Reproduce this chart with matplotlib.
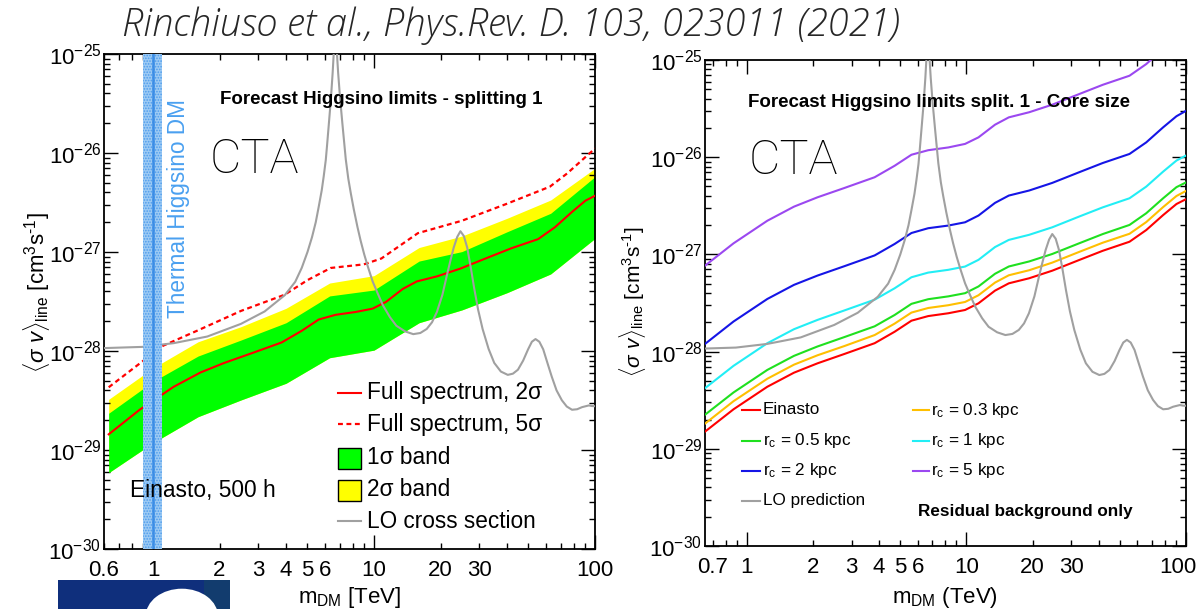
import numpy as np
import matplotlib
matplotlib.use("Agg")
import matplotlib.pyplot as plt
from matplotlib.ticker import FixedLocator, FuncFormatter, NullFormatter
from matplotlib.patches import Rectangle, Ellipse
from matplotlib.lines import Line2D

plt.rcParams["font.family"] = ["Liberation Sans", "DejaVu Sans"]
plt.rcParams["mathtext.fontset"] = "custom"
plt.rcParams["mathtext.rm"] = "Liberation Sans"
plt.rcParams["mathtext.it"] = "Liberation Sans:italic"
plt.rcParams["mathtext.bf"] = "Liberation Sans:bold"
plt.rcParams["mathtext.sf"] = "Liberation Sans"
plt.rcParams["hatch.linewidth"] = 0.8

# ---------------- data ----------------
# expected-limit bands (full spectrum, Einasto, 500 h), sampled mass grid in TeV
band_mass = [0.63, 1.0, 1.6, 2.5, 4.0, 6.3, 10, 16, 25, 40, 63, 100]
band_1s_lo = [5.9e-30, 1.18e-29, 2.17e-29, 3.2e-29, 4.72e-29, 8.55e-29,
              1.02e-28, 1.93e-28, 2.6e-28, 3.88e-28, 6.0e-28, 1.37e-27]
band_1s_hi = [2.35e-29, 4.92e-29, 8.9e-29, 1.29e-28, 1.93e-28, 3.6e-28,
              4.13e-28, 8.1e-28, 1.01e-27, 1.6e-27, 2.46e-27, 5.76e-27]
band_2s_hi = [3.25e-29, 6.73e-29, 1.24e-28, 1.76e-28, 2.7e-28, 4.86e-28,
              5.77e-28, 1.11e-27, 1.45e-27, 2.19e-27, 3.35e-27, 7.0e-27]

# 5 sigma discovery line
m_5sigma = [0.63, 0.892, 1.11, 1.58, 2.5, 3.94, 5.0, 6.37, 9.0, 10.8,
            15.8, 25, 39.6, 62.5, 74.7, 100]
sv_5sigma = [4.3e-29, 7.8e-29, 1.13e-28, 1.6e-28, 2.54e-28, 3.7e-28, 5.2e-28,
             6.9e-28, 7.5e-28, 8.6e-28, 1.55e-27, 2.07e-27, 3.05e-27, 4.57e-27,
             6.2e-27, 1.11e-26]

# smooth limit curves (Einasto and cored profiles)
m_curve = [0.63, 0.87, 1.24, 1.64, 2.1, 2.78, 3.82, 4.71, 5.62, 6.7, 8.27, 9.86,
           11.35, 13.5, 15.6, 19.3, 24.6, 32.6, 41.8, 55.3, 65.9, 78.7, 90.5, 100]
sv_einasto = [1.44e-29, 2.55e-29, 4.35e-29, 6.07e-29, 7.58e-29, 9.45e-29,
              1.22e-28, 1.6e-28, 2.08e-28, 2.32e-28, 2.48e-28, 2.68e-28,
              3.14e-28, 4.24e-28, 5.04e-28, 5.68e-28, 6.8e-28, 8.75e-28,
              1.09e-27, 1.35e-27, 1.78e-27, 2.54e-27, 3.3e-27, 3.7e-27]
sv_rc03 = [1.74e-29, 3.09e-29, 5.26e-29, 7.34e-29, 9.17e-29, 1.14e-28,
           1.48e-28, 1.94e-28, 2.52e-28, 2.81e-28, 3.0e-28, 3.24e-28,
           3.8e-28, 5.13e-28, 6.1e-28, 6.87e-28, 8.23e-28, 1.06e-27,
           1.32e-27, 1.63e-27, 2.15e-27, 3.07e-27, 3.99e-27, 4.5e-27]
sv_rc05 = [2.15e-29, 3.8e-29, 6.48e-29, 9.04e-29, 1.13e-28, 1.41e-28,
           1.82e-28, 2.38e-28, 3.1e-28, 3.46e-28, 3.7e-28, 3.99e-28,
           4.68e-28, 6.32e-28, 7.51e-28, 8.46e-28, 1.01e-27, 1.3e-27,
           1.62e-27, 2.01e-27, 2.65e-27, 3.78e-27, 4.92e-27, 5.5e-27]
sv_rc1 = [4.03e-29, 7.14e-29, 1.22e-28, 1.7e-28, 2.12e-28, 2.65e-28,
          3.42e-28, 4.48e-28, 5.82e-28, 6.5e-28, 6.94e-28, 7.5e-28,
          8.79e-28, 1.19e-27, 1.41e-27, 1.59e-27, 1.9e-27, 2.45e-27,
          3.05e-27, 3.78e-27, 4.98e-27, 7.11e-27, 9.24e-27, 1.04e-26]
sv_rc2 = [1.15e-28, 2.04e-28, 3.48e-28, 4.86e-28, 6.06e-28, 7.56e-28,
          9.76e-28, 1.28e-27, 1.66e-27, 1.86e-27, 1.98e-27, 2.14e-27,
          2.51e-27, 3.39e-27, 4.03e-27, 4.54e-27, 5.44e-27, 7.0e-27,
          8.72e-27, 1.08e-26, 1.42e-26, 2.03e-26, 2.64e-26, 3.0e-26]
sv_rc5 = [7.34e-28, 1.3e-27, 2.22e-27, 3.1e-27, 3.87e-27, 4.82e-27,
          6.22e-27, 8.16e-27, 1.06e-26, 1.18e-26, 1.26e-26, 1.37e-26,
          1.6e-26, 2.16e-26, 2.57e-26, 2.9e-26, 3.47e-26, 4.46e-26,
          5.56e-26, 6.89e-26, 9.08e-26, 1.3e-25, 1.68e-25, 1.89e-25]

# leading-order line cross section (Sommerfeld resonances)
m_lo = [0.6, 0.892, 1.24, 1.76, 2.5, 3.2, 3.95, 4.4, 4.71, 5.0, 5.24, 5.45,
        5.62, 5.8, 5.92, 6.05, 6.13, 6.25, 6.38, 6.5, 6.6, 6.66, 6.75, 6.88,
        7.02, 7.19, 7.45, 7.65, 7.85, 8.1, 8.42, 8.7, 9.03, 9.4, 9.86, 10.4,
        10.97, 11.8, 12.62, 13.8, 15.05, 16.2, 17.32, 18.3, 19.26, 20.4, 21.4,
        22.2, 22.95, 23.8, 24.6, 25.5, 26.4, 27.4, 28.4, 29.6, 31.0, 33.0, 35.0,
        37.5, 40.3, 42.5, 44.8, 47.3, 49.8, 51.8, 53.8, 56.0, 58.3, 61.0, 63.7,
        67.0, 70.8, 74.5, 78.7, 83.0, 87.4, 93.8, 97.0, 100]
sv_lo = [1.07e-28, 1.10e-28, 1.2e-28, 1.40e-28, 1.88e-28, 2.51e-28, 3.67e-28,
         5.0e-28, 6.92e-28, 1.0e-27, 1.41e-27, 2.0e-27, 2.86e-27, 4.2e-27,
         5.8e-27, 8.5e-27, 1.19e-26, 2.0e-26, 3.5e-26, 6.5e-26, 1.2e-25, 2.0e-25,
         1.3e-25, 6.5e-26, 3.6e-26, 2.0e-26, 8.65e-27, 5.5e-27, 3.93e-27, 2.7e-27,
         1.78e-27, 1.3e-27, 9.46e-28, 7.0e-28, 5.04e-28, 3.8e-28, 2.9e-28, 2.2e-28,
         1.8e-28, 1.58e-28, 1.48e-28, 1.52e-28, 1.67e-28, 1.95e-28, 2.48e-28,
         3.7e-28, 5.9e-28, 8.3e-28, 1.11e-27, 1.42e-27, 1.62e-27, 1.45e-27,
         1.11e-27, 7.0e-28, 4.3e-28, 2.6e-28, 1.67e-28, 1.05e-28, 7.58e-29,
         6.2e-29, 5.74e-29, 5.9e-29, 6.47e-29, 8.0e-29, 1.04e-28, 1.24e-28,
         1.32e-28, 1.24e-28, 1.04e-28, 7.5e-29, 5.52e-29, 4.0e-29, 3.18e-29,
         2.75e-29, 2.55e-29, 2.58e-29, 2.71e-29, 2.82e-29, 2.78e-29, 2.77e-29]

thermal_range = (0.9, 1.1)
thermal_mass = 1.0

y_ticks = [1e-30, 1e-29, 1e-28, 1e-27, 1e-26, 1e-25]
y_ticklabels = [r"$10^{-30}$", r"$10^{-29}$", r"$10^{-28}$", r"$10^{-27}$",
                r"$10^{-26}$", r"$10^{-25}$"]
x_major = [1, 10, 100]
x_minor = [0.6, 0.7, 0.8, 0.9, 2, 3, 4, 5, 6, 7, 8, 9, 20, 30, 40, 50, 60, 70, 80, 90]
left_labels = {0.6: "0.6", 1: "1", 2: "2", 3: "3", 4: "4", 5: "5", 6: "6",
               10: "10", 20: "20", 30: "30", 100: "100"}
right_labels = {0.7: "0.7", 1: "1", 2: "2", 3: "3", 4: "4", 5: "5", 6: "6",
                10: "10", 20: "20", 30: "30"}

RED = "#ff0000"
GRAY = "#a0a0a0"
C_RC03 = "#ffbf00"
C_RC05 = "#1fe01f"
C_RC1 = "#22eef5"
C_RC2 = "#1515e6"
C_RC5 = "#9b48f0"

W, H = 1199, 609
fig = plt.figure(figsize=(W / 100, H / 100), dpi=100)


def px_axes(l, r, t, b):
    return fig.add_axes([l / W, 1 - b / H, (r - l) / W, (b - t) / H])


def lookup(labels):
    return FuncFormatter(lambda v, p: next((s for k, s in labels.items()
                                            if abs(k - v) < 1e-6 * k), ""))


def root_style(ax, xmin, labels):
    ax.set_xscale("log")
    ax.set_yscale("log")
    ax.set_xlim(xmin, 100)
    ax.set_ylim(1e-30, 1e-25)
    ax.xaxis.set_major_locator(FixedLocator(x_major))
    ax.xaxis.set_minor_locator(FixedLocator([v for v in x_minor if v >= xmin * 0.999]))
    ax.xaxis.set_major_formatter(lookup(labels))
    ax.xaxis.set_minor_formatter(lookup(labels))
    ax.yaxis.set_major_locator(FixedLocator(y_ticks))
    ax.yaxis.set_major_formatter(FuncFormatter(lambda v, p: y_ticklabels[int(round(np.log10(v))) + 30]))
    ax.yaxis.set_minor_locator(FixedLocator([k * 10.0 ** e for e in range(-30, -25) for k in range(2, 10)]))
    ax.yaxis.set_minor_formatter(NullFormatter())
    ax.tick_params(which="both", direction="in", top=True, right=True, width=1.0)
    ax.tick_params(which="major", length=10)
    ax.tick_params(which="minor", length=4.5)
    ax.tick_params(axis="x", which="both", pad=8, labelsize=16)
    ax.tick_params(axis="y", which="both", pad=2, labelsize=16)
    for s in ax.spines.values():
        s.set_linewidth(1.3)


def frac_y(py, top, bottom):
    return (bottom - py) / (bottom - top)


# ================= left panel =================
axL = px_axes(104, 595, 54, 549)
root_style(axL, 0.6, left_labels)

axL.fill_between(band_mass, band_1s_lo, band_2s_hi, color="#ffff00", lw=0, zorder=1)
axL.fill_between(band_mass, band_1s_lo, band_1s_hi, color="#00ff00", lw=0, zorder=2)
axL.plot(m_curve, sv_einasto, color=RED, lw=1.5, zorder=3)
axL.plot(m_5sigma, sv_5sigma, color=RED, lw=1.6, ls=(0, (2.2, 1.6)), zorder=3)
axL.plot(m_lo, sv_lo, color=GRAY, lw=1.5, zorder=4)

axL.axvspan(*thermal_range, facecolor="#9ccaf4", edgecolor="#4f9cec",
            hatch="......", linewidth=0, zorder=5)
axL.axvline(thermal_mass, color="#3b8de6", lw=1.8, zorder=6)
axL.text(0.1515, 0.4667, "Thermal Higgsino DM", transform=axL.transAxes,
         rotation=90, ha="center", va="bottom", fontsize=16.3, color="#4aa0f0", zorder=7)

axL.text(0.2363, 0.909, "Forecast Higgsino limits - splitting 1", transform=axL.transAxes,
         ha="left", va="center", fontsize=13.5, fontweight="bold", zorder=9)
axL.text(0.2159, 0.786, "CTA", transform=axL.transAxes, ha="left", va="center",
         fontsize=35, family=["Roboto", "DejaVu Sans"], fontweight="light", zorder=9)
axL.text(0.053, 0.119, "Einasto, 500 h", transform=axL.transAxes, ha="left",
         va="center", fontsize=16.4, zorder=10)

x0, x1, xt = (338 - 104) / 491, (361 - 104) / 491, (367 - 104) / 491
rows = [frac_y(p, 54, 549) for p in (393, 424, 458, 490, 521)]
axL.add_line(Line2D([x0, x1], [rows[0]] * 2, transform=axL.transAxes, color=RED, lw=1.5))
axL.add_line(Line2D([x0, x1], [rows[1]] * 2, transform=axL.transAxes, color=RED, lw=1.6,
                    ls=(0, (2.2, 1.6))))
bh = 21 / 495
axL.add_patch(Rectangle((x0, rows[2] - bh / 2), x1 - x0, bh, transform=axL.transAxes,
                        facecolor="#00ff00", edgecolor="black", lw=1.0, zorder=8))
axL.add_patch(Rectangle((x0, rows[3] - bh / 2), x1 - x0, bh, transform=axL.transAxes,
                        facecolor="#ffff00", edgecolor="black", lw=1.0, zorder=8))
axL.add_line(Line2D([x0, x1], [rows[4]] * 2, transform=axL.transAxes, color=GRAY, lw=1.5))
for yv, txt in zip(rows, ["Full spectrum, 2σ", "Full spectrum, 5σ", "1σ band",
                           "2σ band", "LO cross section"]):
    axL.text(xt, yv, txt, transform=axL.transAxes, ha="left", va="center", fontsize=16.3)

# ================= right panel =================
axR = px_axes(705, 1186, 60, 546)
root_style(axR, 0.645, right_labels)
# the last x label sits at the figure edge; nudge it inwards
axR.annotate("100", xy=(100, 0), xycoords=("data", "axes fraction"), xytext=(-6, -8),
             textcoords="offset points", ha="center", va="top", fontsize=16,
             annotation_clip=False)

for sv, col in [(sv_einasto, RED), (sv_rc03, C_RC03), (sv_rc05, C_RC05),
                (sv_rc1, C_RC1), (sv_rc2, C_RC2), (sv_rc5, C_RC5)]:
    axR.plot(m_curve, sv, color=col, lw=1.5, zorder=3)
axR.plot(m_lo, sv_lo, color=GRAY, lw=1.5, zorder=4)

axR.text(0.0894, 0.912, "Forecast Higgsino limits split. 1 - Core size", transform=axR.transAxes,
         ha="left", va="center", fontsize=13.5, fontweight="bold", zorder=6)
axR.text(0.0909, 0.793, "CTA", transform=axR.transAxes, ha="left", va="center",
         fontsize=35, family=["Roboto", "DejaVu Sans"], fontweight="light")

c1 = ((742 - 705) / 481, (760 - 705) / 481, (763 - 705) / 481)
c2 = ((913 - 705) / 481, (929 - 705) / 481, (931 - 705) / 481)
rrows = [frac_y(p, 60, 546) for p in (410, 440.7, 470.7, 500.7)]
entries = [
    (c1, rrows[0], RED, "Einasto"),
    (c2, rrows[0], C_RC03, r"r$_{\rm c}$ = 0.3 kpc"),
    (c1, rrows[1], C_RC05, r"r$_{\rm c}$ = 0.5 kpc"),
    (c2, rrows[1], C_RC1, r"r$_{\rm c}$ = 1 kpc"),
    (c1, rrows[2], C_RC2, r"r$_{\rm c}$ = 2 kpc"),
    (c2, rrows[2], C_RC5, r"r$_{\rm c}$ = 5 kpc"),
    (c1, rrows[3], GRAY, "LO prediction"),
]
for (a, b, t), yv, col, txt in entries:
    axR.add_line(Line2D([a, b], [yv, yv], transform=axR.transAxes, color=col, lw=1.5))
    axR.text(t, yv, txt, transform=axR.transAxes, ha="left", va="center", fontsize=12.3)
axR.text((918 - 705) / 481, frac_y(511.7, 60, 546), "Residual background only",
         transform=axR.transAxes, ha="left", va="center", fontsize=12.3, fontweight="bold")

# ================= axis titles =================
ylab = r"$\langle\sigma\ v\rangle_{\rm line}\ [{\rm cm^{3}s^{\text{-}1}}]$"
fig.text(37 / W, 1 - 293 / H, ylab, rotation=90, ha="center", va="center", fontsize=16)
fig.text(632 / W, 1 - 302 / H, ylab, rotation=90, ha="center", va="center", fontsize=15)
fig.text(350 / W, 1 - 597 / H, r"m$_{\rm DM}$ [TeV]", ha="center", va="center", fontsize=16)
fig.text(945 / W, 1 - 597 / H, r"m$_{\rm DM}$ (TeV)", ha="center", va="center", fontsize=16)

fig.text(511 / W, 1 - 26 / H, "Rinchiuso et al., Phys.Rev. D. 103, 023011 (2021)",
         ha="center", va="center", fontsize=27.4, style="italic", fontweight="light",
         family=["Open Sans", "Roboto", "DejaVu Sans"], color="#262626")

# logo strip at the bottom left
logo = fig.add_axes([58 / W, 0, (230 - 58) / W, 29 / H])
logo.set_xlim(0, 1)
logo.set_ylim(0, 1)
logo.axis("off")
logo.add_patch(Rectangle((0, 0), 1, 1, facecolor="#0f2f7c", lw=0))
logo.add_patch(Rectangle((0.85, 0), 0.15, 1, facecolor="#123c6e", lw=0))
logo.add_patch(Ellipse((0.72, -0.25), 0.42, 1.9, facecolor="white", lw=0))

fig.savefig("out.png", dpi=100)
